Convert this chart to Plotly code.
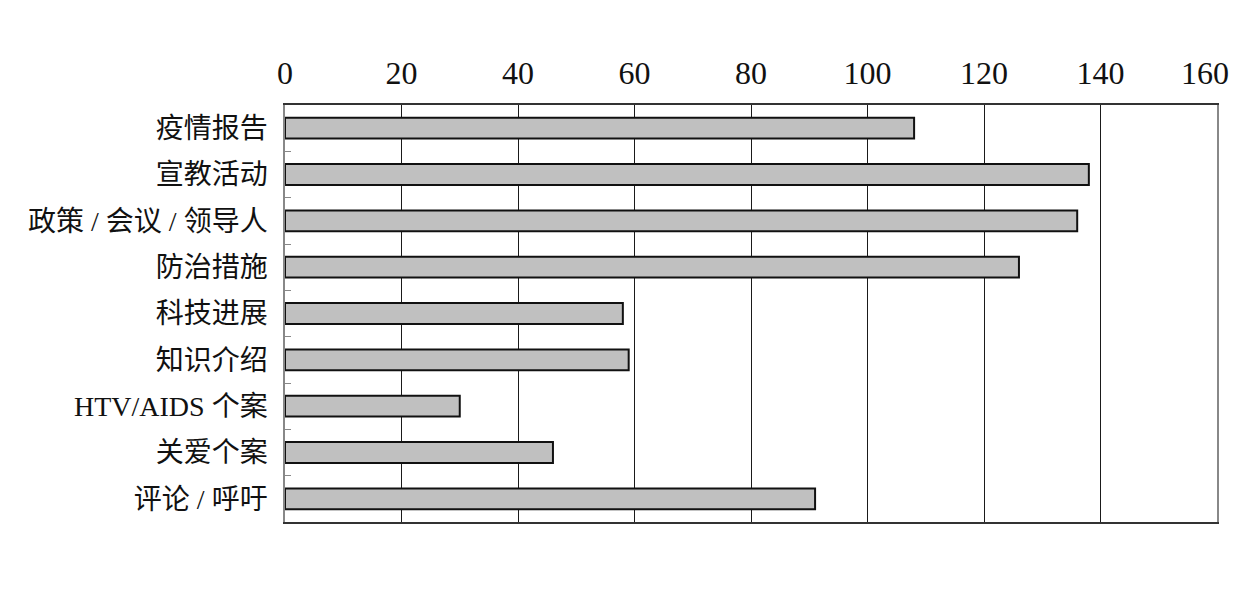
import plotly.graph_objects as go

# categories top to bottom
categories = ['疫情报告', '宣教活动', '政策 / 会议 / 领导人', '防治措施', '科技进展',
              '知识介绍', 'HTV/AIDS 个案', '关爱个案', '评论 / 呼吁']
counts = [108, 138, 136, 126, 58, 59, 30, 46, 91]
x_ticks = [0, 20, 40, 60, 80, 100, 120, 140, 160]

font_family = 'Liberation Serif, Times New Roman, Noto Sans CJK SC, serif'

fig = go.Figure(go.Bar(
    y=categories, x=counts, orientation='h',
    marker=dict(color='#c0c0c0', line=dict(color='#111111', width=2)),
    width=0.45,
))
# empty helper trace so the overlay axis for the last label is drawn
fig.add_trace(go.Scatter(x=[], y=[], xaxis='x2', yaxis='y', mode='markers',
                         hoverinfo='skip', showlegend=False))

# page body adds ~8px offset, so figure is a bit smaller than the window
fig.update_layout(
    width=1224, height=574,
    paper_bgcolor='white', plot_bgcolor='white',
    font=dict(family=font_family, size=28, color='#111111'),
    margin=dict(l=277, r=15, t=97, b=60),
    showlegend=False,
)

axis_font = dict(family=font_family, size=32, color='#111111')

fig.update_layout(xaxis=dict(
    side='top', range=[0, 160], tickvals=x_ticks[:-1],
    showgrid=True, gridcolor='#1a1a1a', gridwidth=1.3,
    showline=True, linecolor='#333333', linewidth=1.5, mirror=True,
    zeroline=False, ticks='', ticklabelstandoff=6, automargin=False,
    tickfont=axis_font,
))
# last label sits a little left of the plot edge in the original
fig.update_layout(xaxis2=dict(
    overlaying='x', anchor='y', side='top', range=[0, 160],
    tickvals=x_ticks[-1:], ticklabelshift=-12, ticklabelstandoff=14,
    ticklabeloverflow='allow',
    showgrid=False, showline=False, zeroline=False, ticks='',
    automargin=False, tickfont=axis_font,
))
fig.update_layout(yaxis=dict(
    autorange='reversed', showgrid=False,
    showline=True, linecolor='#888888', linewidth=1.5, mirror=True,
    ticks='inside', tickson='boundaries', ticklen=6, tickcolor='#888888',
    ticklabelstandoff=10, automargin=False,
    tickfont=dict(size=28),
))

fig.write_html('out.html')
